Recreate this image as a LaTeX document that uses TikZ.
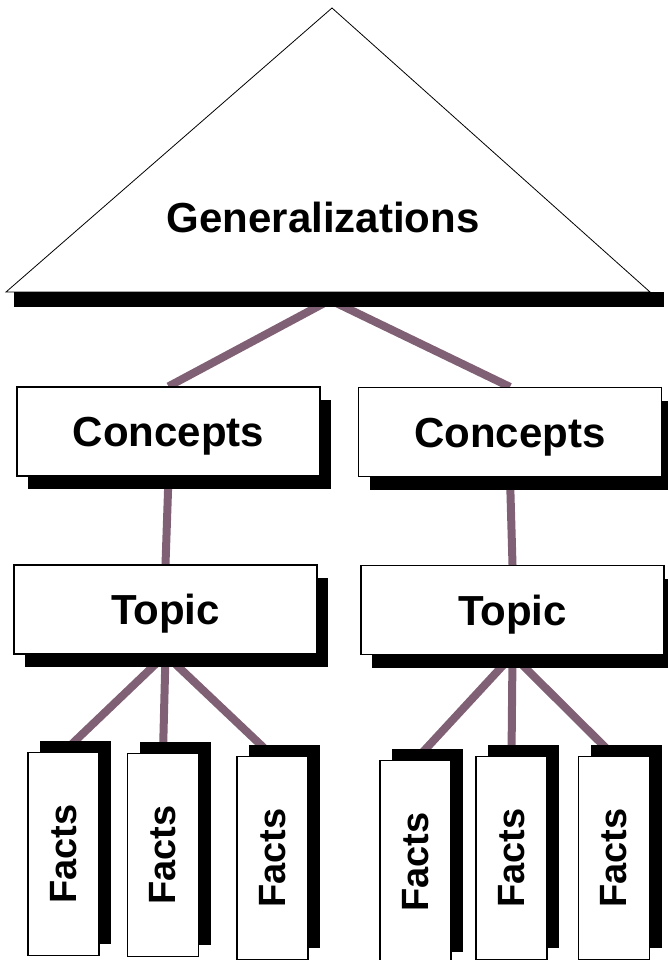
\documentclass[tikz,border=0pt]{standalone}
\usepackage{fontspec}
\setmainfont{Liberation Sans}
\usetikzlibrary{shadows,backgrounds}
\definecolor{enlace}{RGB}{128,96,116}
\tikzset{
  caja/.style={draw=black, line width=1.2pt, fill=white, minimum width=303pt,
    minimum height=89pt, inner sep=0pt, font=\fontsize{42}{42}\selectfont\bfseries,
    text height=30pt, text depth=0pt,
    drop shadow={shadow xshift=11pt, shadow yshift=-13pt, opacity=1, fill=black}},
  hecho/.style={draw=black, line width=1.2pt, fill=white, minimum width=71pt,
    minimum height=203pt, inner sep=0pt, anchor=north,
    font=\fontsize{38}{38}\selectfont\bfseries,
    drop shadow={shadow xshift=12pt, shadow yshift=12pt, opacity=1, fill=black}},
  rama/.style={draw=enlace, line width=8pt}
}
\begin{document}
\begin{tikzpicture}[x=1pt, y=-1pt]
    \useasboundingbox (0,0) rectangle (668,960);

    % Triangulo de generalizaciones
    \filldraw[fill=white, draw=black, line width=0.8pt] (332,8) -- (650,292) -- (6,292) -- cycle;
    \fill[black] (14,292) rectangle (664,307);
    \node[font=\fontsize{42}{42}\selectfont\bfseries, anchor=base] (gen) at (323,232) {Generalizations};
    \coordinate (gbase) at (330,300);

    % Conceptos y temas
    \node[caja] (cl) at (168.5,431.5) {Concepts};
    \node[caja] (cr) at (510,432) {Concepts};
    \node[caja] (tl) at (165.5,609.5) {Topic};
    \node[caja] (tr) at (512.5,610) {Topic};

    % Hechos
    \node[hecho] (f1) at (63.5,752) {\rotatebox{90}{Facts}};
    \node[hecho] (f2) at (163,753) {\rotatebox{90}{Facts}};
    \node[hecho] (f3) at (272.5,756) {\rotatebox{90}{Facts}};
    \node[hecho] (f4) at (415.5,760) {\rotatebox{90}{Facts}};
    \node[hecho] (f5) at (511.5,756) {\rotatebox{90}{Facts}};
    \node[hecho] (f6) at (614,756) {\rotatebox{90}{Facts}};

    % Enlaces
    \begin{scope}[on background layer]
        \draw[rama] (gbase) -- (cl.north);
        \draw[rama] (gbase) -- (cr.north);
        \draw[rama] (cl.south) -- (tl.north);
        \draw[rama] (cr.south) -- (tr.north);
        \foreach \f in {f1,f2,f3}
            \draw[rama] (tl.south) -- (\f.north);
        \foreach \f in {f4,f5,f6}
            \draw[rama] (tr.south) -- (\f.north);
    \end{scope}
\end{tikzpicture}
\end{document}
